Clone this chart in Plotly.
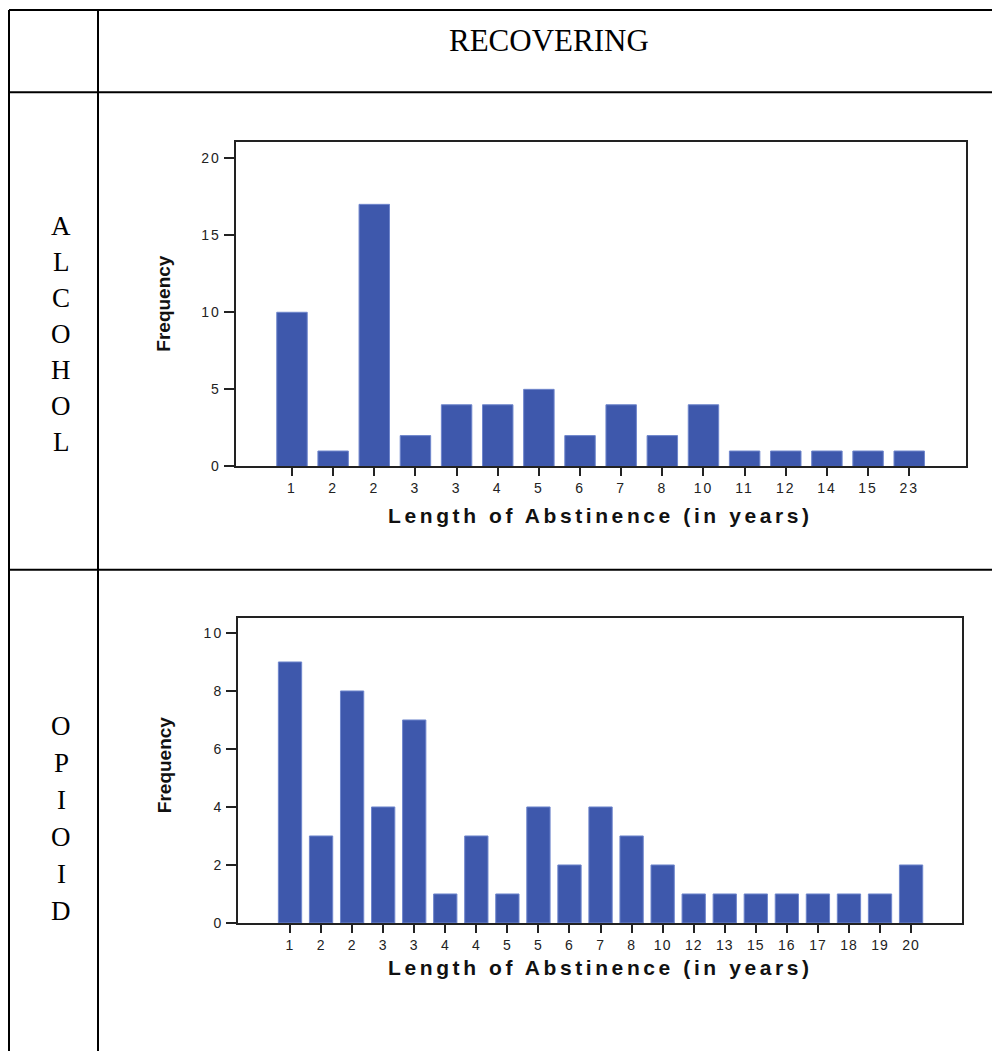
import plotly.graph_objects as go

# ---- data ----
alcohol_labels = ["1", "2", "2", "3", "3", "4", "5", "6", "7", "8", "10", "11", "12", "14", "15", "23"]
alcohol_freq = [10, 1, 17, 2, 4, 4, 5, 2, 4, 2, 4, 1, 1, 1, 1, 1]

opioid_labels = ["1", "2", "2", "3", "3", "4", "4", "5", "5", "6", "7", "8", "10", "12", "13", "15",
                 "16", "17", "18", "19", "20"]
opioid_freq = [9, 3, 8, 4, 7, 1, 3, 1, 4, 2, 4, 3, 2, 1, 1, 1, 1, 1, 1, 1, 2]

alcohol_yticks = [0, 5, 10, 15, 20]
opioid_yticks = [0, 2, 4, 6, 8, 10]

header_text = "RECOVERING"
row_labels = ["ALCOHOL", "OPIOID"]
x_title = "Length of Abstinence (in years)"
y_title = "Frequency"

# ---- layout helpers ----
W, H = 992, 1059
def xp(px):
    return px / W
def yp(py):
    return 1 - py / H

BAR = "#3E58AC"
SP = lambda s, ls: f'<span style="letter-spacing:{ls}px">{s}</span>'

fig = go.Figure()
fig.add_trace(go.Bar(x=list(range(len(alcohol_freq))), y=alcohol_freq, width=0.74,
                     marker=dict(color=BAR, line=dict(width=1, color="#6f86cc")), xaxis="x", yaxis="y",
                     showlegend=False, hoverinfo="skip"))
fig.add_trace(go.Bar(x=list(range(len(opioid_freq))), y=opioid_freq, width=0.75,
                     marker=dict(color=BAR, line=dict(width=1, color="#6f86cc")), xaxis="x2", yaxis="y2",
                     showlegend=False, hoverinfo="skip"))

tickfont = dict(family="Liberation Sans, Arial, sans-serif", size=14, color="#222")
axis_common = dict(showline=True, linecolor="#222", linewidth=2, mirror=True,
                   showgrid=False, zeroline=False, ticks="outside", tickcolor="#222",
                   tickwidth=2, tickfont=tickfont, fixedrange=True)

c1 = dict(l=235.7, r=966, t=143.3, b=470)
c2 = dict(l=238, r=962, t=622.3, b=930)

fig.update_layout(
    width=W, height=H, margin=dict(l=0, r=0, t=0, b=0),
    paper_bgcolor="white", plot_bgcolor="white",
    xaxis=dict(domain=[xp(c1["l"]), xp(c1["r"])], range=[-1.368, 16.38],
               tickvals=list(range(len(alcohol_labels))),
               ticktext=[SP(t, 2) for t in alcohol_labels], ticklen=8, anchor="y",
               **axis_common),
    yaxis=dict(domain=[yp(c1["b"]), yp(c1["t"])], range=[0, 21.03],
               tickvals=alcohol_yticks, ticktext=[SP(str(t), 2) for t in alcohol_yticks],
               ticklen=10, anchor="x", **axis_common),
    xaxis2=dict(domain=[xp(c2["l"]), xp(c2["r"])], range=[-1.675, 21.64],
                tickvals=list(range(len(opioid_labels))),
                ticktext=[SP(t, 1) for t in opioid_labels], ticklen=8, anchor="y2",
                **axis_common),
    yaxis2=dict(domain=[yp(c2["b"]), yp(c2["t"])], range=[0, 10.53],
                tickvals=opioid_yticks, ticktext=[SP(str(t), 2) for t in opioid_yticks],
                ticklen=10, anchor="x2", **axis_common),
)

# ---- table lines ----
line = dict(color="black", width=2)
for y in [10, 93, 574]:
    fig.add_shape(type="line", xref="paper", yref="paper", x0=xp(9), x1=xp(992),
                  y0=yp(y), y1=yp(y), line=line)
for x in [9, 98]:
    fig.add_shape(type="line", xref="paper", yref="paper", x0=xp(x), x1=xp(x),
                  y0=yp(10), y1=yp(1059), line=line)

serif = dict(family="Liberation Serif, Times New Roman, serif", color="black")
fig.add_annotation(text=header_text, x=xp(549), y=yp(41), xref="paper", yref="paper",
                   showarrow=False, font=dict(size=31, **serif), xanchor="center", yanchor="middle")

for label, y0, step in [(row_labels[0], 228, 36.2), (row_labels[1], 732, 37.2)]:
    for i, ch in enumerate(label):
        fig.add_annotation(text=ch, x=xp(61), y=yp(y0 + i * step), xref="paper", yref="paper",
                           showarrow=False, font=dict(size=27, **serif),
                           xanchor="center", yanchor="middle")

# ---- axis titles ----
bold = dict(family="Liberation Sans, Arial, sans-serif", color="#111")
for cx, cy in [((c1["l"] + c1["r"]) / 2, 519), ((c2["l"] + c2["r"]) / 2, 975)]:
    fig.add_annotation(text="<b>" + SP(x_title, 3.6) + "</b>", x=xp(cx), y=yp(cy),
                       xref="paper", yref="paper", showarrow=False,
                       font=dict(size=21, **bold), xanchor="center", yanchor="middle")
for cy in [306, 771]:
    fig.add_annotation(text="<b>" + y_title + "</b>", x=xp(164), y=yp(cy),
                       xref="paper", yref="paper", showarrow=False, textangle=-90,
                       font=dict(family="Liberation Sans, Arial, sans-serif",
                                 size=19, color="#111"),
                       xanchor="center", yanchor="middle")

fig.write_html("out.html")
